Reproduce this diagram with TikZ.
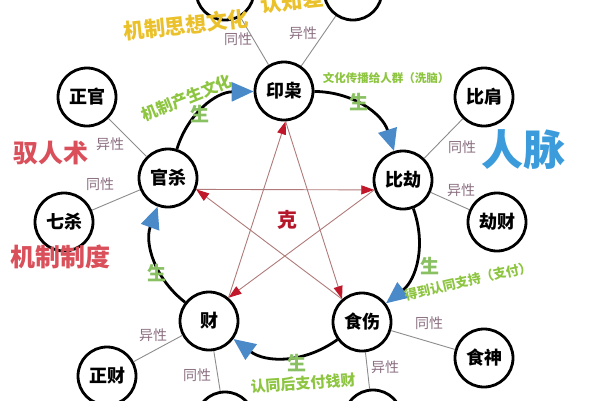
\documentclass[tikz,border=0pt]{standalone}
\usepackage{fontspec}
\setmainfont{Noto Sans CJK SC}
\usetikzlibrary{arrows.meta}
\definecolor{yel}{HTML}{EBC12B}
\definecolor{grn}{HTML}{8DC540}
\definecolor{sheng}{HTML}{89C061}
\definecolor{blutext}{HTML}{3B9BDB}
\definecolor{redtext}{HTML}{D9505B}
\definecolor{ketext}{HTML}{B5182B}
\definecolor{starline}{HTML}{B07A7A}
\definecolor{arrowred}{HTML}{C0182A}
\definecolor{arrowblue}{HTML}{4A8AC9}
\definecolor{relgray}{HTML}{8C8C8C}
\definecolor{labcol}{HTML}{8A6E80}
\tikzset{
  el/.style={circle, draw=black, line width=2.8pt, fill=white, minimum size=58pt, inner sep=0pt,
    font=\fontsize{18}{18}\selectfont\bfseries},
  cyc/.style={line width=2.8pt, -{Triangle[length=22pt,width=19pt,color=arrowblue]}},
  ke/.style={draw=starline, line width=0.9pt, -{Triangle[length=13pt,width=9pt,color=arrowred]}},
  rel/.style={draw=relgray, line width=0.9pt},
  rellab/.style={text=labcol, font=\fontsize{14}{14}\selectfont, inner sep=0pt},
  sh/.style={text=sheng, font=\fontsize{19}{19}\selectfont\bfseries, inner sep=0pt},
  gl/.style={text=grn, inner sep=0pt},
}
\begin{document}
\begin{tikzpicture}[x=1pt,y=-1pt]
\useasboundingbox (0,0) rectangle (600,400);
\clip (0,0) rectangle (600,400);
% main cycle nodes
\node[el] (yx) at (284,91) {印枭};
\node[el] (bj) at (403,180) {比劫};
\node[el] (ss) at (362,322) {食伤};
\node[el] (cai) at (209,321) {财};
\node[el] (gs) at (168,178) {官杀};
% outer nodes
\node[el] (zg) at (87,97) {正官};
\node[el] (qs) at (64,222) {七杀};
\node[el] (bjian) at (484,97) {比肩};
\node[el] (jc) at (497,222) {劫财};
\node[el] (shen) at (484,358) {食神};
\node[el] (zc) at (107,376) {正财};
\node[el] (bl) at (225,421) {};
\node[el] (br) at (373,419) {};
\node[el] (tl) at (225,-9) {偏印};
\node[el] (tr) at (353,-9) {正印};
% relation lines
\draw[rel] (yx) -- (tl);
\draw[rel] (yx) -- (tr);
\draw[rel] (gs) -- (zg);
\draw[rel] (gs) -- (qs);
\draw[rel] (bj) -- (bjian);
\draw[rel] (bj) -- (jc);
\draw[rel] (cai) -- (zc);
\draw[rel] (cai) -- (bl);
\draw[rel] (ss) -- (shen);
\draw[rel] (ss) -- (br);
% relation labels
\node[rellab] (l1) at (238,39) {同性};
\node[rellab] (l2) at (303,33) {异性};
\node[rellab] (l3) at (110,144) {异性};
\node[rellab] (l4) at (100,184) {同性};
\node[rellab] (l5) at (462,147) {同性};
\node[rellab] (l6) at (461,190) {异性};
\node[rellab] (l7) at (153,335) {异性};
\node[rellab] (l8) at (197,375) {同性};
\node[rellab] (l9) at (429,323) {同性};
\node[rellab] (l10) at (385,367) {异性};
% generating cycle
\draw[cyc] (gs) to[bend left=36] (yx);
\draw[cyc] (yx) to[bend left=36] (bj);
\draw[cyc] (bj) to[bend left=36] (ss);
\draw[cyc] (ss) to[bend left=36] (cai);
\draw[cyc] (cai) to[bend left=36] (gs);
% controlling star
\draw[ke] (gs.-22) -- (bj.199);
\draw[ke] (bj.199) -- (cai.50);
\draw[ke] (cai.50) -- (yx.-87);
\draw[ke] (yx.-87) -- (ss.131);
\draw[ke] (ss.131) -- (gs.-22);
\node[text=ketext, font=\fontsize{20}{20}\selectfont\bfseries, inner sep=0pt] (ke) at (287,220) {克};
% texts
\node[text=yel, font=\fontsize{21}{21}\selectfont\bfseries, inner sep=0pt, rotate=6] (t1) at (186,25) {机制思想文化};
\node[text=yel, font=\fontsize{21}{21}\selectfont\bfseries, inner sep=0pt, rotate=6] (t2) at (292,1) {认知差};
\node[gl, font=\fontsize{16}{16}\selectfont\bfseries, rotate=22] (t3) at (187,98) {机制产生文化};
\node[sh] (s1) at (200,114) {生};
\node[gl, font=\fontsize{11.5}{11.5}\selectfont\bfseries] (t4) at (386,78) {文化传播给人群（洗脑）};
\node[sh] (s2) at (359,102) {生};
\node[text=blutext, font=\fontsize{42}{42}\selectfont\bfseries, inner sep=0pt] (t5) at (523,150) {人脉};
\node[text=redtext, font=\fontsize{25}{25}\selectfont\bfseries, inner sep=0pt] (t6) at (51,153) {驭人术};
\node[text=redtext, font=\fontsize{25}{25}\selectfont\bfseries, inner sep=0pt] (t7) at (60,257) {机制制度};
\node[sh] (s3) at (157,273) {生};
\node[sh] (s4) at (430,266) {生};
\node[gl, font=\fontsize{13}{13}\selectfont\bfseries, rotate=13] (t8) at (468,281) {得到认同支持（支付）};
\node[sh] (s5) at (297,363) {生};
\node[gl, font=\fontsize{15}{15}\selectfont\bfseries, rotate=4] (t9) at (303,383) {认同后支付钱财};
\end{tikzpicture}
\end{document}
